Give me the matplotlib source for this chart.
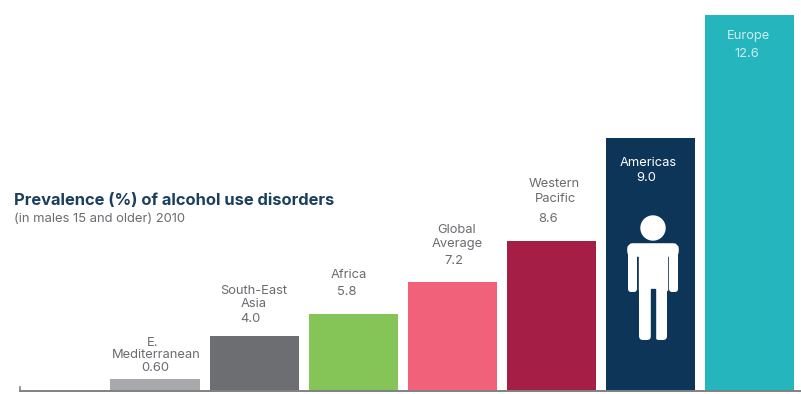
import matplotlib
matplotlib.use('Agg')
import matplotlib.pyplot as plt
from matplotlib.patches import Circle, FancyBboxPatch, Rectangle

# Data (bar heights are read off the picture, they do not follow the printed values)
regions = ['E.\nMediterranean', 'South-East\nAsia', 'Africa', 'Global\nAverage', 'Western\nPacific', 'Americas', 'Europe']
printed_values = ['0.60', '4.0', '5.8', '7.2', '8.6', '9.0', '12.6']
bar_heights = [12, 55, 77, 109, 150, 253, 376]
bar_colors = ['#a7a9ac', '#6d6e71', '#85c457', '#f2617a', '#a51e45', '#0c3557', '#25b5bd']

plt.rcParams['font.family'] = 'Inter'
GREY = '#6a6c70'

W, H = 801, 394
fig = plt.figure(figsize=(W / 100, H / 100), dpi=100)

# Bars on a category axis, baseline sits at pixel row 391
ax = fig.add_axes([0, 0, 1, 1])
ax.bar(range(len(regions)), bar_heights, width=0.9, color=bar_colors, zorder=2)
ax.set_xlim(-155 / 99.1, (W - 155) / 99.1)
ax.set_ylim(-3, 391)
ax.axis('off')

# Overlay in pixel coordinates for the hand placed labels and the icon
ov = fig.add_axes([0, 0, 1, 1])
ov.set_xlim(0, W)
ov.set_ylim(H, 0)
ov.axis('off')
ov.patch.set_alpha(0)

ov.plot([20, W], [391, 391], color='#7f8183', lw=1.4, zorder=3)
ov.plot([20, 20], [387, 391], color='#7f8183', lw=1.2, zorder=3)

# Title
ov.text(14, 200, 'Prevalence (%) of alcohol use disorders', fontsize=11.9, fontweight='bold',
        color='#1b3f5e', va='center', ha='left')
ov.text(14, 219, '(in males 15 and older) 2010', fontsize=9.4, color=GREY, va='center', ha='left')

# Region labels: (x, y) per line of text
label_lines = [
    [(153, 343), (156, 355)], [(254, 291), (254, 304)], [(349, 275)],
    [(457, 230), (457, 244)], [(554, 184), (555, 199)], [(648, 163), ], [(748, 36)],
]
value_pos = [(155, 368), (250, 319), (347, 292), (454, 261), (548, 219), (646, 178), (747, 54)]
label_colors = [GREY, GREY, GREY, GREY, GREY, 'white', '#cdeef0']

for name, lines, val, vpos, col in zip(regions, label_lines, printed_values, value_pos, label_colors):
    for part, (x, y) in zip(name.split('\n'), lines):
        ov.text(x, y, part, fontsize=9.3, color=col, ha='center', va='center')
    ov.text(vpos[0], vpos[1], val, fontsize=9.3, color=col, ha='center', va='center')

# Person icon on the Americas bar
dark = bar_colors[5]
ov.add_patch(Circle((653, 228), 12, color='white', zorder=4))
ov.add_patch(FancyBboxPatch((630, 246), 46, 8, boxstyle='round,pad=0,rounding_size=3', fc='white', ec='white', lw=4, zorder=4))
ov.add_patch(Rectangle((639, 246), 28, 44, color='white', zorder=4))
ov.add_patch(FancyBboxPatch((628, 250), 9, 42, boxstyle='round,pad=0,rounding_size=3', fc='white', ec='none', zorder=4))
ov.add_patch(FancyBboxPatch((669, 250), 9, 42, boxstyle='round,pad=0,rounding_size=3', fc='white', ec='none', zorder=4))
ov.add_patch(FancyBboxPatch((639, 280), 12, 60, boxstyle='round,pad=0,rounding_size=4', fc='white', ec='none', zorder=4))
ov.add_patch(FancyBboxPatch((655, 280), 12, 60, boxstyle='round,pad=0,rounding_size=4', fc='white', ec='none', zorder=4))
ov.add_patch(Rectangle((651, 289), 4, 52, color=dark, zorder=5))

fig.savefig('out.png', dpi=100)
